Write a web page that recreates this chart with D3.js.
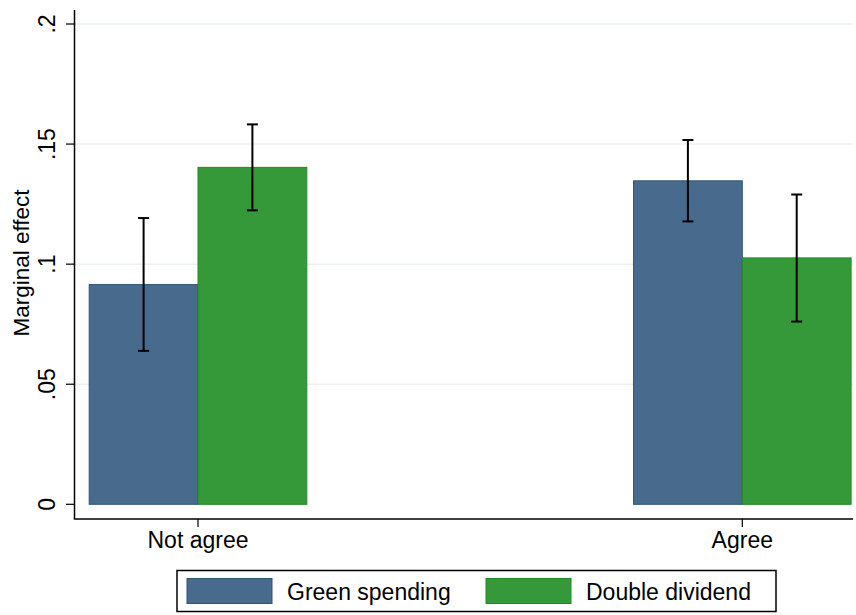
<!DOCTYPE html>
<html><head><meta charset="utf-8">
<script src="https://cdn.jsdelivr.net/npm/d3@7"></script>
<style>body{margin:0;background:#fff}svg{display:block}text{font-family:"Liberation Sans",Arial,sans-serif;fill:#000}</style>
</head><body><svg id="c" width="856" height="615"></svg>
<script>
const categories = ["Not agree", "Agree"];
const seriesNames = ["Green spending", "Double dividend"];
const greenSpending = [0.0915, 0.1347];
const greenSpendingLo = [0.0639, 0.1178];
const greenSpendingHi = [0.1192, 0.1517];
const doubleDividend = [0.1403, 0.1026];
const doubleDividendLo = [0.1224, 0.0761];
const doubleDividendHi = [0.1582, 0.1290];
const yTicks = [0, 0.05, 0.1, 0.15, 0.2];
const yTickLabels = ["0", ".05", ".1", ".15", ".2"];
const colors = ["#486a8c", "#35993a"];
const strokes = ["#2f5577", "#1f8a24"];

(function () {
const svg = d3.select("#c");
const pLeft = 74.5, pRight = 853, pTop = 10, pBottom = 519;
const y = d3.scaleLinear().domain([0, 0.2]).range([504.3, 24]);
const x = d3.scaleLinear().domain([0, 1]).range([198, 742.3]);
const bw = 108.8 / (742.3 - 198);

// grid
svg.append("g").selectAll("line").data(yTicks.slice(1)).join("line")
  .attr("x1", pLeft).attr("x2", pRight).attr("y1", d => y(d)).attr("y2", d => y(d))
  .attr("stroke", "#eaf2f3").attr("stroke-width", 1.5);

const series = [
  {vals: greenSpending, lo: greenSpendingLo, hi: greenSpendingHi, off: -1},
  {vals: doubleDividend, lo: doubleDividendLo, hi: doubleDividendHi, off: 0}
];
series.forEach((s, si) => {
  const g = svg.append("g");
  g.selectAll("rect").data(s.vals).join("rect")
    .attr("x", (d, i) => x(i + s.off * bw))
    .attr("width", x(bw) - x(0))
    .attr("y", d => y(d))
    .attr("height", d => y(0) - y(d))
    .attr("fill", colors[si]).attr("stroke", strokes[si]).attr("stroke-width", 1);
});
series.forEach((s, si) => {
  const g = svg.append("g").attr("stroke", "#000").attr("stroke-width", 2);
  s.vals.forEach((d, i) => {
    const cx = x(i + (s.off + 0.5) * bw);
    g.append("line").attr("x1", cx).attr("x2", cx).attr("y1", y(s.lo[i])).attr("y2", y(s.hi[i]));
    [s.lo[i], s.hi[i]].forEach(v => g.append("line").attr("x1", cx - 5.5).attr("x2", cx + 5.5).attr("y1", y(v)).attr("y2", y(v)));
  });
});

// y axis
svg.append("line").attr("x1", pLeft).attr("x2", pLeft).attr("y1", pTop).attr("y2", pBottom).attr("stroke", "#000").attr("stroke-width", 1.5);
const ya = svg.append("g");
ya.selectAll("line").data(yTicks).join("line")
  .attr("x1", 66).attr("x2", pLeft).attr("y1", d => y(d)).attr("y2", d => y(d)).attr("stroke", "#000").attr("stroke-width", 1.2);
ya.selectAll("text").data(yTicks).join("text")
  .attr("transform", d => `translate(54.5,${y(d)}) rotate(-90)`)
  .attr("text-anchor", "middle").attr("font-size", 23).text((d, i) => yTickLabels[i]);
svg.append("text").attr("transform", "translate(28.5,263) rotate(-90)").attr("text-anchor", "middle")
  .attr("font-size", 22.5).text("Marginal effect");

// x axis
svg.append("line").attr("x1", pLeft - 0.75).attr("x2", pRight).attr("y1", pBottom).attr("y2", pBottom).attr("stroke", "#000").attr("stroke-width", 1.5);
const xa = svg.append("g");
xa.selectAll("line").data(categories).join("line")
  .attr("x1", (d, i) => x(i)).attr("x2", (d, i) => x(i)).attr("y1", pBottom).attr("y2", 527).attr("stroke", "#000").attr("stroke-width", 1.2);
xa.selectAll("text").data(categories).join("text")
  .attr("x", (d, i) => x(i)).attr("y", 548).attr("text-anchor", "middle").attr("font-size", 23).text(d => d);

// legend
const lg = svg.append("g");
lg.append("rect").attr("x", 177).attr("y", 570.5).attr("width", 599).attr("height", 41).attr("fill", "#fff").attr("stroke", "#000").attr("stroke-width", 1.5);
const lx = [187, 486];
seriesNames.forEach((n, i) => {
  lg.append("rect").attr("x", lx[i]).attr("y", 578.5).attr("width", 85).attr("height", 25).attr("fill", colors[i]).attr("stroke", strokes[i]);
  lg.append("text").attr("x", lx[i] + 100).attr("y", 599.5).attr("font-size", 23).text(n);
});
})();
</script></body></html>
